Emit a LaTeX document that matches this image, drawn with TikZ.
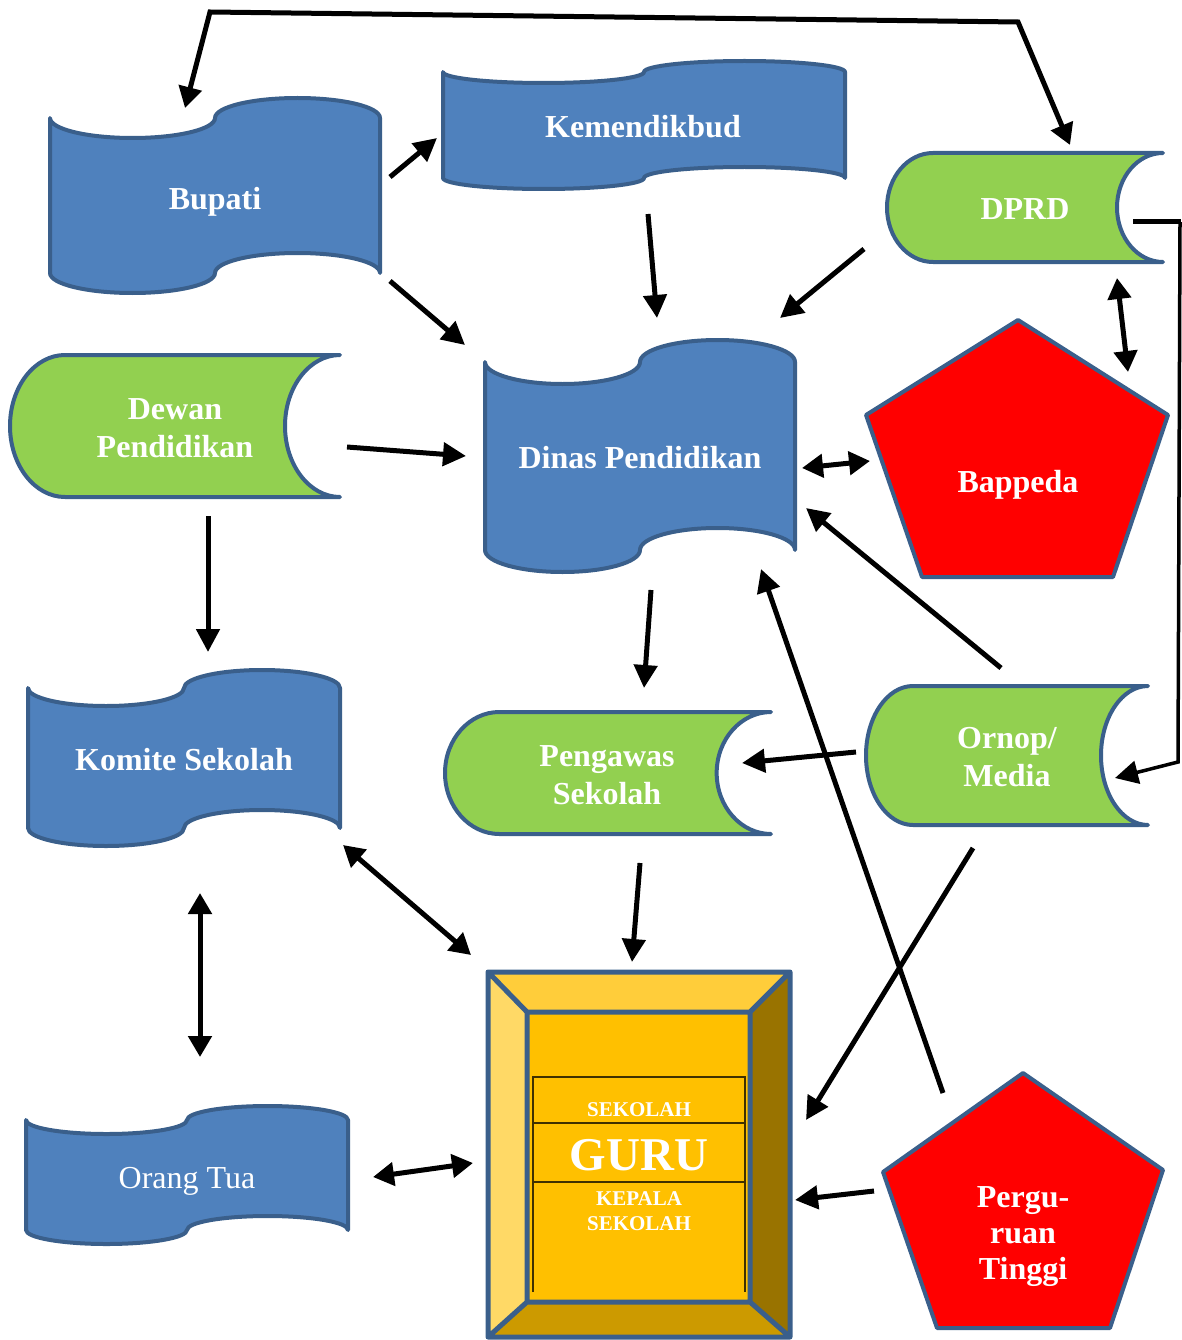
\documentclass[tikz,border=0pt]{standalone}
\usepackage{fontspec}
\setmainfont{Liberation Serif}
\usetikzlibrary{arrows.meta}

\definecolor{tapeblue}{HTML}{4F81BD}
\definecolor{edgeblue}{HTML}{3A5F8B}
\definecolor{storegreen}{HTML}{92D050}
\definecolor{pentred}{HTML}{FF0000}
\definecolor{boxface}{HTML}{FFC000}
\definecolor{boxtop}{HTML}{FFCD3A}
\definecolor{boxleft}{HTML}{FFD966}
\definecolor{boxright}{HTML}{997300}
\definecolor{boxbottom}{HTML}{CC9A00}
\definecolor{tableline}{HTML}{3F3000}

\tikzset{
  shapeline/.style={draw=edgeblue, line width=4pt, line join=round},
  lbl/.style={text=white, font=\bfseries\fontsize{32}{38}\selectfont, align=center, inner sep=0pt},
  arr/.style={line width=5pt, -{Triangle[length=23pt,width=23pt]}},
  dbl/.style={line width=5pt, {Triangle[length=21pt,width=23pt]}-{Triangle[length=21pt,width=23pt]}},
}

% punched tape: x1, x2, top, bottom, amplitude
\newcommand{\tapebox}[5]{%
  \pgfmathsetmacro{\tq}{(#2-#1)/4}
  \pgfmathsetmacro{\kq}{0.552*\tq}
  \pgfmathsetmacro{\ka}{0.552*#5}
  \draw[shapeline, fill=tapeblue] (#1,#3)
    .. controls (#1,{#3+\ka}) and ({#1+\tq-\kq},{#3+#5}) .. ({#1+\tq},{#3+#5})
    .. controls ({#1+\tq+\kq},{#3+#5}) and ({#1+2*\tq},{#3+\ka}) .. ({#1+2*\tq},#3)
    .. controls ({#1+2*\tq},{#3-\ka}) and ({#1+3*\tq-\kq},{#3-#5}) .. ({#1+3*\tq},{#3-#5})
    .. controls ({#1+3*\tq+\kq},{#3-#5}) and (#2,{#3-\ka}) .. (#2,#3)
    -- (#2,#4)
    .. controls (#2,{#4-\ka}) and ({#2-\tq+\kq},{#4-#5}) .. ({#2-\tq},{#4-#5})
    .. controls ({#2-\tq-\kq},{#4-#5}) and ({#2-2*\tq},{#4-\ka}) .. ({#2-2*\tq},#4)
    .. controls ({#2-2*\tq},{#4+\ka}) and ({#2-3*\tq+\kq},{#4+#5}) .. ({#2-3*\tq},{#4+#5})
    .. controls ({#2-3*\tq-\kq},{#4+#5}) and (#1,{#4+\ka}) .. (#1,#4) -- cycle;
}

% stored data: x1, x2, top, bottom
\newcommand{\storebox}[4]{%
  \pgfmathsetmacro{\sd}{(#2-#1)/6}
  \pgfmathsetmacro{\sr}{(#4-#3)/2}
  \pgfmathsetmacro{\sm}{(#3+#4)/2}
  \pgfmathsetmacro{\kd}{0.552*\sd}
  \pgfmathsetmacro{\kr}{0.552*\sr}
  \draw[shapeline, fill=storegreen] ({#1+\sd},#3) -- (#2,#3)
    .. controls ({#2-\kd},#3) and ({#2-\sd},{\sm-\kr}) .. ({#2-\sd},\sm)
    .. controls ({#2-\sd},{\sm+\kr}) and ({#2-\kd},#4) .. (#2,#4)
    -- ({#1+\sd},#4)
    .. controls ({#1+\sd-\kd},#4) and (#1,{\sm+\kr}) .. (#1,\sm)
    .. controls (#1,{\sm-\kr}) and ({#1+\sd-\kd},#3) .. cycle;
}

\begin{document}
\begin{tikzpicture}[x=1pt,y=-1pt]
\useasboundingbox (0,0) rectangle (1182,1340);

% blue tapes
\tapebox{50}{380}{118}{273}{20}
\tapebox{443}{845}{72}{178}{11}
\tapebox{485}{795}{362}{550}{22}
\tapebox{28}{340}{688}{828}{18}
\tapebox{26}{348}{1120}{1230}{14}

% green stores
\storebox{887}{1163}{153}{262}
\storebox{10}{340}{355}{497}
\storebox{445}{771}{712}{834}
\storebox{866}{1148}{686}{825}

% red pentagons
\draw[shapeline, fill=pentred] (1018,320) -- (1168,415) -- (1113,577) -- (922,577) -- (866,415) -- cycle;
\draw[shapeline, fill=pentred] (1023,1073) -- (1163,1170) -- (1110,1328) -- (937,1328) -- (883,1172) -- cycle;

% school box
\fill[boxtop] (488,972) -- (790,972) -- (750,1012) -- (527,1012) -- cycle;
\fill[boxleft] (488,972) -- (527,1012) -- (527,1302) -- (488,1337) -- cycle;
\fill[boxright] (790,972) -- (790,1337) -- (750,1302) -- (750,1012) -- cycle;
\fill[boxbottom] (488,1337) -- (527,1302) -- (750,1302) -- (790,1337) -- cycle;
\fill[boxface] (527,1012) rectangle (750,1302);
\draw[edgeblue, line width=5pt, line join=round] (488,972) rectangle (790,1337)
  (527,1012) rectangle (750,1302)
  (488,972) -- (527,1012) (790,972) -- (750,1012)
  (488,1337) -- (527,1302) (790,1337) -- (750,1302);
\draw[tableline, line width=1.5pt] (533,1292) -- (533,1077) -- (745,1077) -- (745,1292)
  (533,1123) -- (745,1123) (533,1182) -- (745,1182);

% labels
\node[lbl] (bup) at (215,202) {Bupati};
\node[lbl] (kem) at (643,127) {Kemendikbud};
\node[lbl] (dinas) at (640,458) {Dinas Pendidikan};
\node[lbl] (komite) at (184,760) {Komite Sekolah};
\node[lbl, font=\fontsize{32}{38}\selectfont] (ortu) at (187,1181) {Orang Tua};
\node[lbl] (dprd) at (1025,209) {DPRD};
\node[lbl] (dewan) at (175,428) {Dewan\\Pendidikan};
\node[lbl] (pengawas) at (607,775) {Pengawas\\Sekolah};
\node[lbl] (ornop) at (1007,757) {Ornop/\\Media};
\node[lbl] (bappeda) at (1018,485) {Bappeda};
\node[lbl, font=\bfseries\fontsize{32}{36}\selectfont] (pt) at (1023,1237) {Pergu-\\ruan\\Tinggi};
\node[lbl, font=\bfseries\fontsize{21}{25}\selectfont] (sek) at (639,1110) {SEKOLAH};
\node[lbl, font=\bfseries\fontsize{47}{50}\selectfont] (guru) at (639,1155) {GURU};
\node[lbl, font=\bfseries\fontsize{21}{25}\selectfont] (kepsek) at (639,1211) {KEPALA\\SEKOLAH};

% arrow ends
\coordinate (bupE) at (390,177);  \coordinate (kemW) at (437,138);
\coordinate (bupSE) at (390,281); \coordinate (dinNW) at (465,345);
\coordinate (kemS) at (648,214);  \coordinate (dinN) at (657,318);
\coordinate (dprdW) at (864,249); \coordinate (dinNE) at (780,318);
\coordinate (dewE) at (347,447);  \coordinate (dinW) at (466,456);
\coordinate (ornNW) at (1001,668); \coordinate (dinE) at (806,508);
\coordinate (dewS) at (208,516);  \coordinate (komN) at (208,652);
\coordinate (dinS) at (651,590);  \coordinate (penN) at (644,688);
\coordinate (ornW) at (856,752);  \coordinate (penE) at (742,763);
\coordinate (penS) at (640,863);  \coordinate (sekN) at (632,962);
\coordinate (ornS) at (973,848);  \coordinate (sekNE) at (806,1120);
\coordinate (ptNW) at (943,1093); \coordinate (dinSE) at (761,569);
\coordinate (ptW) at (874,1191);  \coordinate (sekE) at (795,1200);
\coordinate (dprdS) at (1117,278); \coordinate (bapN) at (1128,372);
\coordinate (dinE2) at (802,468); \coordinate (bapW) at (870,461);
\coordinate (komS) at (200,893);  \coordinate (ortuN) at (200,1057);
\coordinate (komSE) at (343,845); \coordinate (sekNW) at (471,955);
\coordinate (ortuE) at (373,1177); \coordinate (sekW) at (473,1163);
\coordinate (bupN) at (185,108);  \coordinate (dprdN) at (1070,145);
\coordinate (dprdE) at (1133,222); \coordinate (ornE) at (1115,778);

\foreach \s/\e in {bupE/kemW, bupSE/dinNW, kemS/dinN, dprdW/dinNE, dewE/dinW,
  ornNW/dinE, dewS/komN, dinS/penN, ornW/penE, penS/sekN, ornS/sekNE,
  ptNW/dinSE, ptW/sekE}
  \draw[arr] (\s) -- (\e);
\foreach \s/\e in {dprdS/bapN, dinE2/bapW, komS/ortuN, komSE/sekNW, ortuE/sekW}
  \draw[dbl] (\s) -- (\e);

\draw[dbl, line join=miter] (bupN) -- (210,12) -- (1018,22) -- (dprdN);
\draw[line width=5pt] (dprdE) -- (1181,222);
\draw[arr, line width=3.5pt] (1180,222) -- (1178,762) -- (ornE);
\end{tikzpicture}
\end{document}
